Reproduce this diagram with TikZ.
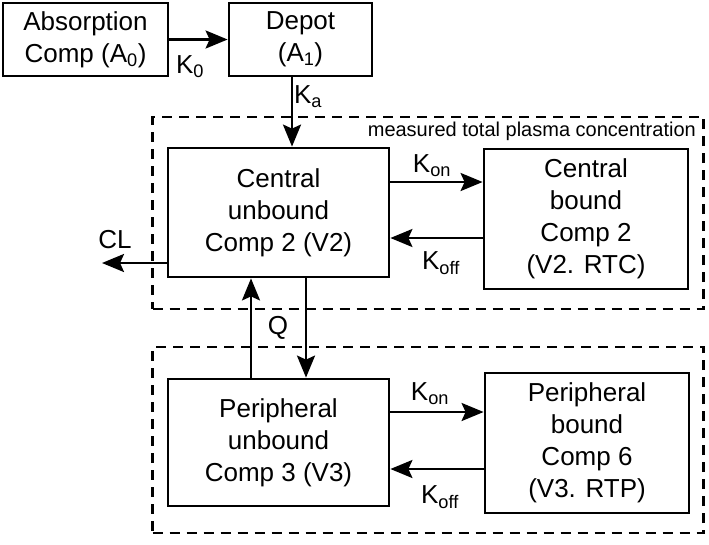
\documentclass[tikz,border=0pt]{standalone}
\usepackage{fontspec}
\setmainfont{Liberation Sans}
\usetikzlibrary{arrows.meta}
\begin{document}
\begin{tikzpicture}[x=1pt,y=-1pt,
    comp/.style={draw, line width=2.8pt, align=center, inner sep=0pt, font=\fontsize{26}{32}\selectfont},
    zone/.style={draw, line width=2.4pt, dash pattern=on 10pt off 7pt, inner sep=0pt},
    flow/.style={line width=2.6pt, -{Stealth[length=22pt,width=18pt,inset=4pt]}},
    lbl/.style={font=\fontsize{26}{32}\selectfont, inner sep=0pt}]
\useasboundingbox (0,0) rectangle (709,544);

\node[zone, minimum width=551pt, minimum height=192pt] (plasma) at (428,213) {};
\node[zone, minimum width=551pt, minimum height=186pt] (peri) at (428,440) {};
\node[anchor=east, inner sep=0pt, font=\fontsize{20}{22}\selectfont] (mtpc) at (696,131) {measured total plasma concentration};

\node[comp, minimum width=165pt, minimum height=73pt] (abs) at (85.5,39.5) {Absorption\\Comp (A\textsubscript{0})};
\node[comp, minimum width=143pt, minimum height=73pt] (depot) at (300.5,39.5) {Depot\\(A\textsubscript{1})};
\node[comp, minimum width=221pt, minimum height=129pt] (cu) at (278.5,212.5) {Central\\unbound\\Comp 2 (V2)};
\node[comp, minimum width=204pt, minimum height=140pt] (cb) at (586,219) {Central\\bound\\Comp 2\\(V2. RTC)};
\node[comp, minimum width=221pt, minimum height=127pt] (pu) at (278.5,442.5) {Peripheral\\unbound\\Comp 3 (V3)};
\node[comp, minimum width=204pt, minimum height=140pt] (pb) at (587,443) {Peripheral\\bound\\Comp 6\\(V3. RTP)};
\coordinate (clout) at (102,263);

\node[lbl] (k0) at (190,67) {K\textsubscript{0}};
\node[lbl] (ka) at (308,97) {K\textsubscript{a}};
\node[lbl] (kon1) at (432,166) {K\textsubscript{on}};
\node[lbl] (koff1) at (441,263) {K\textsubscript{off}};
\node[lbl] (cl) at (115,240) {CL};
\node[lbl] (q) at (278,328) {Q};
\node[lbl] (kon2) at (430,394) {K\textsubscript{on}};
\node[lbl] (koff2) at (440,497) {K\textsubscript{off}};

\draw[flow] (abs) -- (depot);
\draw[flow] (depot.south -| 292,0) -- (cu.north -| 292,0);
\draw[flow] (cu.east |- 0,182) -- (cb.west |- 0,182);
\draw[flow] (cb.west |- 0,238) -- (cu.east |- 0,238);
\draw[flow] (cu.west |- clout) -- (clout);
\draw[flow] (pu.north -| 251,0) -- (cu.south -| 251,0);
\draw[flow] (cu.south -| 306,0) -- (pu.north -| 306,0);
\draw[flow] (pu.east |- 0,412) -- (pb.west |- 0,412);
\draw[flow] (pb.west |- 0,469) -- (pu.east |- 0,469);
\end{tikzpicture}
\end{document}
